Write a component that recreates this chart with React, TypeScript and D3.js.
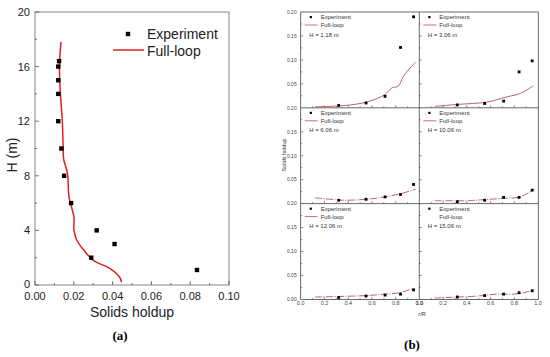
import React from "react";
import * as d3 from "d3";

// ---- panel (a): axial profile ----
const expH = [16.4, 16.0, 15.0, 14.0, 12.0, 10.0, 8.0, 6.0, 4.0, 3.0, 2.0, 1.1];
const expHoldup = [0.0124, 0.012, 0.012, 0.012, 0.012, 0.0136, 0.015, 0.0186, 0.0318, 0.041, 0.029, 0.0835];
const loopH = [17.8, 16.0, 14.0, 12.0, 10.1, 9.2, 8.2, 6.5, 5.5, 5.0, 4.0, 3.3, 2.6, 1.8, 1.2, 0.6, 0.2];
const loopHoldup = [0.0134, 0.0126, 0.0131, 0.0141, 0.0145, 0.0148, 0.0167, 0.0175, 0.0192, 0.0201, 0.0201, 0.0215, 0.0249, 0.0301, 0.0387, 0.0435, 0.0447];
const xTicksA = [0, 0.02, 0.04, 0.06, 0.08, 0.1];
const yTicksA = [0, 4, 8, 12, 16, 20];

// ---- panel (b): radial profiles ----
const heights = ["1.18", "3.06", "6.06", "10.06", "12.06", "15.06"];
const rExp = [0.32, 0.55, 0.71, 0.84, 0.95];
const exp118 = [0.005, 0.01, 0.024, 0.126, 0.19];
const exp306 = [0.006, 0.009, 0.014, 0.075, 0.098];
const exp606 = [0.007, 0.009, 0.014, 0.019, 0.04];
const exp1006 = [0.004, 0.007, 0.013, 0.013, 0.028];
const exp1206 = [0.004, 0.007, 0.009, 0.011, 0.02];
const exp1506 = [0.005, 0.008, 0.011, 0.014, 0.018];
const r118 = [0.12, 0.25, 0.42, 0.54, 0.64, 0.71, 0.77, 0.82, 0.87, 0.97];
const sim118 = [0.002, 0.003, 0.006, 0.011, 0.019, 0.028, 0.042, 0.045, 0.068, 0.096];
const r306 = [0.13, 0.32, 0.57, 0.74, 0.85, 0.96];
const sim306 = [0.003, 0.007, 0.012, 0.023, 0.03, 0.046];
const r606 = [0.12, 0.25, 0.36, 0.55, 0.71, 0.83, 0.97];
const sim606 = [0.012, 0.009, 0.007, 0.009, 0.014, 0.02, 0.03];
const r1006 = [0.13, 0.4, 0.47, 0.71, 0.85, 0.97];
const sim1006 = [0.006, 0.006, 0.007, 0.011, 0.014, 0.03];
const r1206 = [0.12, 0.55, 0.71, 0.83, 0.95];
const sim1206 = [0.005, 0.008, 0.011, 0.014, 0.023];
const r1506 = [0.13, 0.49, 0.65, 0.79, 0.88, 0.97];
const sim1506 = [0.003, 0.007, 0.011, 0.011, 0.014, 0.02];
const expSets = [exp118, exp306, exp606, exp1006, exp1206, exp1506];
const rSets = [r118, r306, r606, r1006, r1206, r1506];
const simSets = [sim118, sim306, sim606, sim1006, sim1206, sim1506];
const yTicksB = [0.05, 0.1, 0.15, 0.2];
const xTicksB = [0, 0.2, 0.4, 0.6, 0.8, 1.0];

const font = "Liberation Sans, Arial, sans-serif";

const PanelA = () => {
  const x = d3.scaleLinear().domain([0, 0.1]).range([35, 229]);
  const y = d3.scaleLinear().domain([0, 20]).range([285, 12]);
  const line = d3
    .line<number>()
    .x((d) => x(d))
    .y((_, i) => y(loopH[i]))
    .curve(d3.curveCatmullRom);
  const minorX = d3.range(0, 0.1001, 0.01);
  const minorY = d3.range(0, 20.01, 2);
  return (
    <g fontFamily={font}>
      <rect x={35} y={12} width={194} height={273} fill="none" stroke="#666" strokeWidth={0.8} />
      {minorX.map((t, i) => (
        <line key={"mx" + i} x1={x(t)} x2={x(t)} y1={285} y2={i % 2 ? 283 : 281} stroke="#555" strokeWidth={0.8} />
      ))}
      {minorY.map((t, i) => (
        <line key={"my" + i} x1={35} x2={i % 2 ? 37 : 39} y1={y(t)} y2={y(t)} stroke="#555" strokeWidth={0.8} />
      ))}
      {xTicksA.map((t) => (
        <text key={"xt" + t} x={x(t)} y={299.5} fontSize={11} textAnchor="middle" fill="#222">
          {t.toFixed(2)}
        </text>
      ))}
      {yTicksA.map((t) => (
        <text key={"yt" + t} x={30} y={y(t) + (t === 0 ? 2.5 : 4)} fontSize={11} textAnchor="end" fill="#222">
          {t}
        </text>
      ))}
      <text x={132} y={317} fontSize={14} textAnchor="middle" fill="#222">Solids holdup</text>
      <text transform="translate(17,155) rotate(-90)" fontSize={14} textAnchor="middle" fill="#222">H (m)</text>
      <path d={line(loopHoldup) || ""} fill="none" stroke="#e02020" strokeWidth={1.5} />
      {expHoldup.map((v, i) => (
        <rect key={"e" + i} x={x(v) - 2.2} y={y(expH[i]) - 2.2} width={4.4} height={4.4} fill="#000" />
      ))}
      <rect x={125.8} y={31.8} width={4.4} height={4.4} fill="#000" />
      <text x={147} y={39} fontSize={14} fill="#222">Experiment</text>
      <line x1={113} x2={144} y1={50} y2={50} stroke="#e02020" strokeWidth={1.5} />
      <text x={147} y={56} fontSize={14} fill="#222">Full-loop</text>
      <text x={120} y={340} fontSize={13} fontWeight="bold" fontFamily="Liberation Serif, serif" textAnchor="middle">(a)</text>
    </g>
  );
};

const colX = [300.7, 419.3];
const rowY = [12, 107.8, 203.6];
const pw = 118.8;
const ph = 95.8;

const SubPanel = ({ idx }: { idx: number }) => {
  const col = idx % 2;
  const row = Math.floor(idx / 2);
  const left = colX[col];
  const top = rowY[row];
  const x = d3.scaleLinear().domain([0, 1]).range([left, left + pw]);
  const y = d3.scaleLinear().domain([0, 0.2]).range([top + ph, top]);
  const line = d3
    .line<number>()
    .x((d) => x(d))
    .y((_, i) => y(simSets[idx][i]))
    .curve(d3.curveCatmullRom);
  const lc = "#c0606c";
  return (
    <g>
      {d3.range(0.1, 1.0, 0.1).map((t, i) => (
        <line key={"tx" + i} x1={x(t)} x2={x(t)} y1={top + ph} y2={top + ph - (i % 2 ? 2.5 : 1.5)} stroke="#444" strokeWidth={0.6} />
      ))}
      {d3.range(0.025, 0.2, 0.025).map((t, i) => (
        <line key={"ty" + i} x1={left} x2={left + (i % 2 ? 2.5 : 1.5)} y1={y(t)} y2={y(t)} stroke="#444" strokeWidth={0.6} />
      ))}
      <path
        d={line(rSets[idx]) || ""}
        fill="none"
        stroke={lc}
        strokeWidth={1}
        strokeDasharray={row === 0 ? undefined : "7 1.5 1 1.5"}
      />
      {expSets[idx].map((v, i) => (
        <rect key={"p" + i} x={x(rExp[i]) - 1.4} y={y(v) - 1.4} width={2.8} height={2.8} fill="#000" />
      ))}
      <rect x={left + 9} y={top + 4} width={2.2} height={2.2} fill="#000" />
      <text x={left + 20} y={top + 7.2} fontSize={6} fill="#333">Experiment</text>
      {idx !== 5 && <line x1={left + 4} x2={left + 17} y1={top + 13} y2={top + 13} stroke={lc} strokeWidth={0.9} />}
      <text x={left + 20} y={top + 15.2} fontSize={6} fill="#333">Full-loop</text>
      <text x={left + 8.5} y={top + 24.5} fontSize={6} fill="#333">H = {heights[idx]} m</text>
      {col === 0 &&
        yTicksB.map((t) => (
          <text key={"yl" + t} x={left - 4} y={y(t) + 1.8} fontSize={5} textAnchor="end" fill="#444">
            {t.toFixed(2)}
          </text>
        ))}
      {col === 0 && row === 2 && (
        <text x={left - 4} y={y(0) + 1.8} fontSize={5} textAnchor="end" fill="#444">0.00</text>
      )}
      {row === 2 &&
        xTicksB.map((t) => (
          <text key={"xl" + t} x={x(t)} y={top + ph + 6} fontSize={5.5} textAnchor="middle" fill="#444">
            {t.toFixed(1)}
          </text>
        ))}
    </g>
  );
};

const PanelB = () => (
  <g fontFamily={font}>
    {d3.range(6).map((i) => (
      <SubPanel key={i} idx={i} />
    ))}
    <rect x={colX[0]} y={rowY[0]} width={pw * 2} height={ph * 3} fill="none" stroke="#444" strokeWidth={0.8} />
    <line x1={colX[1]} x2={colX[1]} y1={rowY[0]} y2={rowY[0] + ph * 3} stroke="#444" strokeWidth={0.8} />
    <line x1={colX[0]} x2={colX[0] + pw * 2} y1={rowY[1]} y2={rowY[1]} stroke="#444" strokeWidth={0.8} />
    <line x1={colX[0]} x2={colX[0] + pw * 2} y1={rowY[2]} y2={rowY[2]} stroke="#444" strokeWidth={0.8} />
    <text transform="translate(286,155) rotate(-90)" fontSize={5.5} textAnchor="middle" fill="#333">Solids holdup</text>
    <text x={422} y={316} fontSize={5.5} textAnchor="middle" fill="#333">r/R</text>
    <text x={412} y={349} fontSize={13} fontWeight="bold" fontFamily="Liberation Serif, serif" textAnchor="middle">(b)</text>
  </g>
);

export default function App() {
  return (
    <svg width={550} height={357} style={{ position: "absolute", left: 0, top: 0, background: "#fff" }}>
      <rect width={550} height={357} fill="#fff" />
      <PanelA />
      <PanelB />
    </svg>
  );
}
